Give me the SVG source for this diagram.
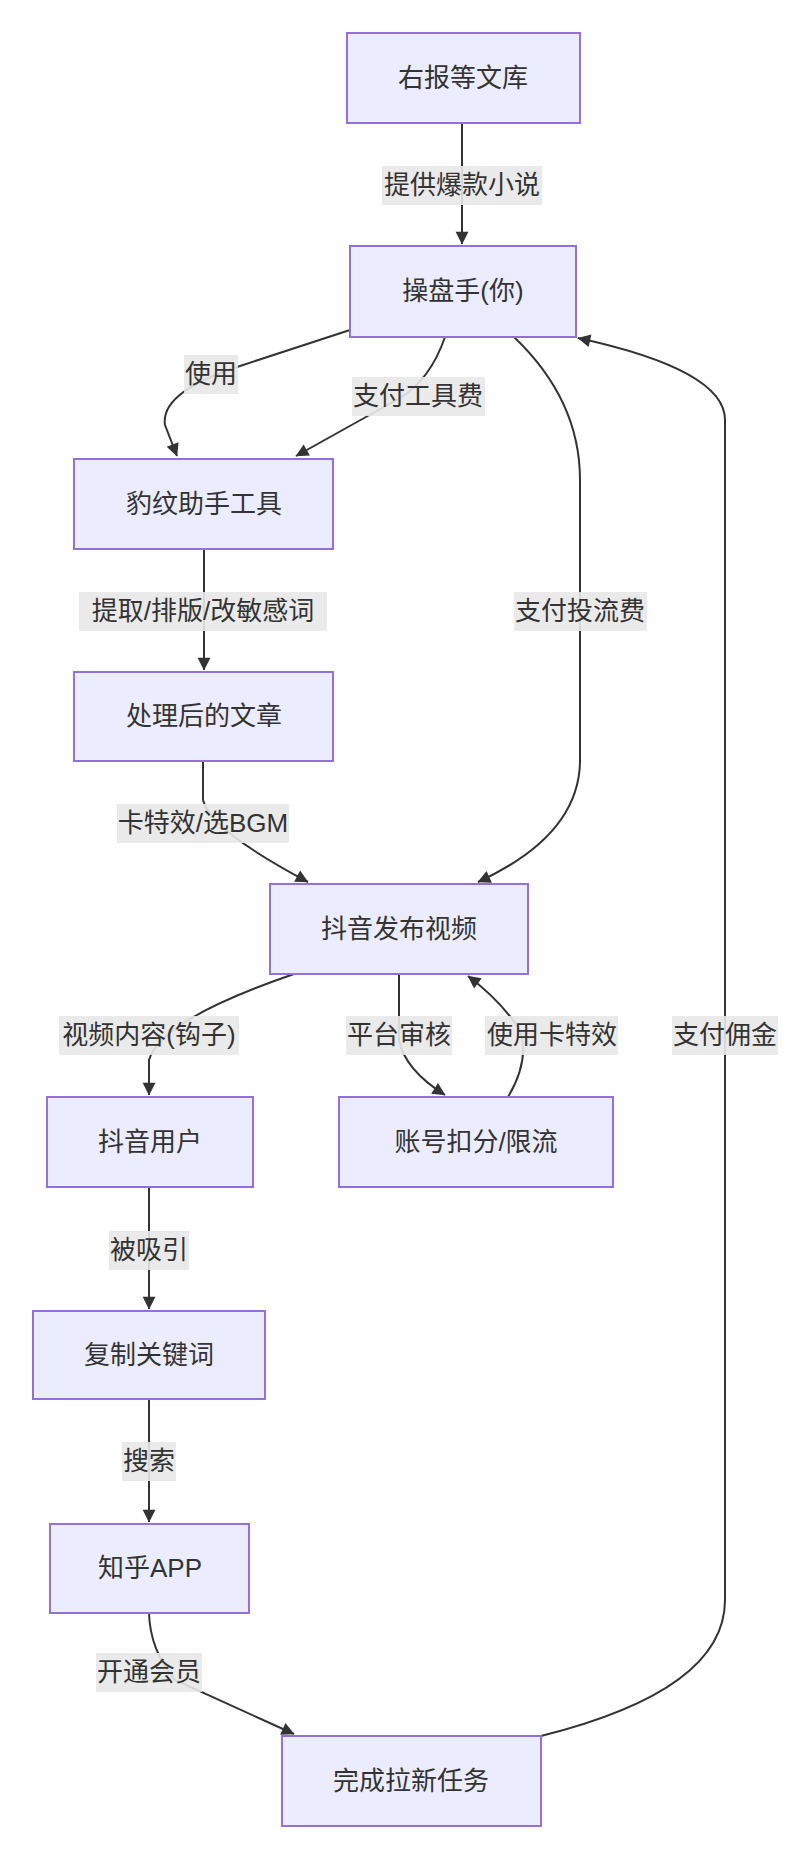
<svg xmlns="http://www.w3.org/2000/svg" width="812" height="1868" viewBox="0 0 812 1868">
<style>
.n rect{fill:#ececff;stroke:#9370db;stroke-width:2}
text{font-family:"Liberation Sans","Noto Sans CJK SC",sans-serif;font-size:26px;fill:#333;text-anchor:middle;dominant-baseline:central}
.e path{fill:none;stroke:#333;stroke-width:2;marker-end:url(#a)}
.l rect{fill:#e8e8e8;opacity:0.9}
</style>
<defs><marker id="a" viewBox="0 0 10 10" refX="9" refY="5" markerWidth="8" markerHeight="8" orient="auto" markerUnits="userSpaceOnUse" style="overflow:visible"><path d="M0,0 L10,5 L0,10 z" fill="#333" transform="scale(1.6) translate(-4,-1.9)"/></marker></defs>
<rect width="812" height="1868" fill="#fff"/>
<g class="e">
<path d="M462,123 L462,244"/>
<path d="M350,330 L240,366 Q160,392 165,425 L177,456"/>
<path d="M445,337 Q430,380 400,398 L296,456"/>
<path d="M514,337 Q580,400 580,480 L580,760 Q580,835 478,882"/>
<path d="M204,549 L204,670"/>
<path d="M203,761 L203,800 Q210,830 308,882"/>
<path d="M294,974 Q160,1020 149,1060 L149,1095"/>
<path d="M399,974 L399,1040 Q405,1070 445,1095"/>
<path d="M508,1097 Q530,1060 520,1030 Q500,1000 468,976"/>
<path d="M149,1187 L149,1309"/>
<path d="M149,1399 L149,1522"/>
<path d="M149,1613 Q150,1650 175,1680 L294,1734"/>
<path d="M541,1736 Q725,1690 725,1600 L725,420 Q725,370 578,338"/>
</g>
<g class="l">
<rect x="382" y="166" width="160" height="39"/><text x="462" y="185">提供爆款小说</text>
<rect x="184" y="355" width="54" height="39"/><text x="211" y="374">使用</text>
<rect x="352" y="377" width="133" height="39"/><text x="418" y="396">支付工具费</text>
<rect x="79" y="592" width="248" height="39"/><text x="203" y="611">提取/排版/改敏感词</text>
<rect x="514" y="592" width="133" height="39"/><text x="580" y="611">支付投流费</text>
<rect x="117" y="804" width="172" height="39"/><text x="203" y="823">卡特效/选BGM</text>
<rect x="59" y="1016" width="180" height="39"/><text x="149" y="1035">视频内容(钩子)</text>
<rect x="346" y="1016" width="106" height="39"/><text x="399" y="1035">平台审核</text>
<rect x="485" y="1016" width="133" height="39"/><text x="552" y="1035">使用卡特效</text>
<rect x="672" y="1016" width="106" height="39"/><text x="725" y="1035">支付佣金</text>
<rect x="109" y="1231" width="80" height="39"/><text x="149" y="1250">被吸引</text>
<rect x="122" y="1442" width="54" height="39"/><text x="149" y="1461">搜索</text>
<rect x="96" y="1653" width="106" height="39"/><text x="149" y="1672">开通会员</text>
</g>
<g class="n" id="n1"><rect x="347" y="33" width="233" height="90"/><text x="463" y="78">右报等文库</text></g>
<g class="n" id="n2"><rect x="350" y="246" width="226" height="91"/><text x="463" y="291">操盘手(你)</text></g>
<g class="n" id="n3"><rect x="74" y="459" width="259" height="90"/><text x="204" y="504">豹纹助手工具</text></g>
<g class="n" id="n4"><rect x="74" y="672" width="259" height="89"/><text x="204" y="716">处理后的文章</text></g>
<g class="n" id="n5"><rect x="270" y="884" width="258" height="90"/><text x="399" y="929">抖音发布视频</text></g>
<g class="n" id="n6"><rect x="47" y="1097" width="206" height="90"/><text x="150" y="1142">抖音用户</text></g>
<g class="n" id="n7"><rect x="339" y="1097" width="274" height="90"/><text x="476" y="1142">账号扣分/限流</text></g>
<g class="n" id="n8"><rect x="33" y="1311" width="232" height="88"/><text x="149" y="1355">复制关键词</text></g>
<g class="n" id="n9"><rect x="50" y="1524" width="199" height="89"/><text x="150" y="1568">知乎APP</text></g>
<g class="n" id="n10"><rect x="282" y="1736" width="259" height="90"/><text x="411" y="1781">完成拉新任务</text></g>
</svg>
